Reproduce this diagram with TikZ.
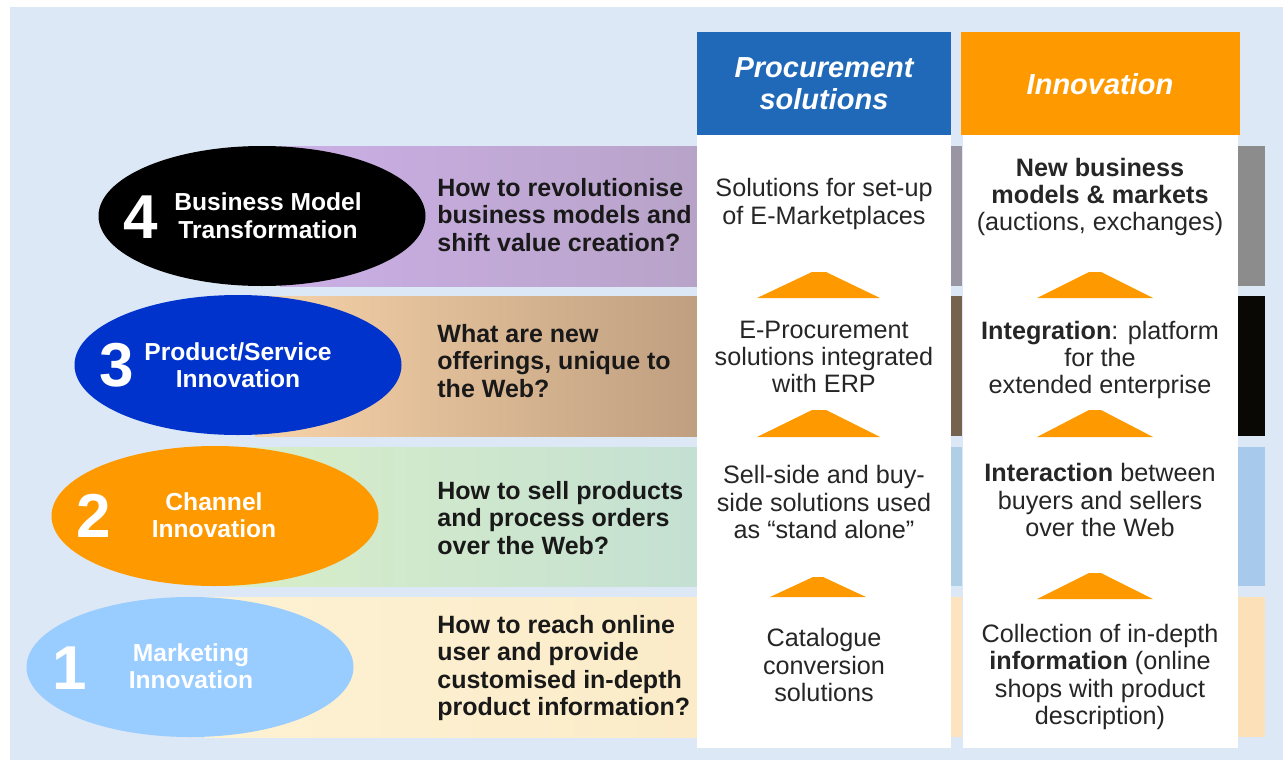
\documentclass[tikz,border=0pt]{standalone}
\usepackage{fontspec}
\setmainfont{Liberation Sans}
\usetikzlibrary{shapes.geometric}
\definecolor{bgblue}{HTML}{DCE8F5}
\definecolor{procblue}{HTML}{2068B8}
\definecolor{orng}{HTML}{FF9900}
\definecolor{ellblue}{HTML}{0033CC}
\definecolor{elllight}{HTML}{99CCFF}
\definecolor{b4l}{HTML}{CBAFE6}
\definecolor{b4r}{HTML}{B8A3C8}
\definecolor{b4m}{HTML}{9A95A3}
\definecolor{b4x}{HTML}{8C8C8C}
\definecolor{b3l}{HTML}{F7D3A9}
\definecolor{b3r}{HTML}{BF9F80}
\definecolor{b3m}{HTML}{756350}
\definecolor{b3x}{HTML}{0A0805}
\definecolor{b2l}{HTML}{D8EEC8}
\definecolor{b2r}{HTML}{C4E0D2}
\definecolor{b2m}{HTML}{AECFE6}
\definecolor{b2x}{HTML}{A6C9EC}
\definecolor{b1l}{HTML}{FDF2D4}
\definecolor{b1r}{HTML}{FBEBC8}
\definecolor{b1m}{HTML}{FDE4C0}
\definecolor{b1x}{HTML}{FCE0B8}
\tikzset{
  ell/.style={ellipse, minimum width=163.5pt, minimum height=70pt, inner sep=0pt},
  digit/.style={text=white, font=\fontsize{31pt}{31pt}\selectfont\bfseries, inner sep=0pt},
  elabel/.style={text=white, align=center, font=\fontsize{12.3pt}{13.8pt}\selectfont\bfseries, inner sep=0pt},
  question/.style={anchor=west, align=left, inner sep=0pt, text=black!90, font=\fontsize{12.5pt}{13.75pt}\selectfont\bfseries},
  coltext/.style={align=center, inner sep=0pt, text=black!85, font=\fontsize{12.6pt}{13.6pt}\selectfont},
  header/.style={text=white, align=center, inner sep=0pt, font=\fontsize{14.5pt}{16pt}\selectfont\bfseries\itshape},
  arrowtri/.style={fill=orng}
}
\begin{document}
\begin{tikzpicture}[x=0.5pt,y=-0.5pt]
\useasboundingbox (0,0) rectangle (1283,760);
\fill[white] (0,0) rectangle (1283,760);
\fill[bgblue] (10,7) rectangle (1283,760);
% bands
\shade[left color=b4l, right color=b4r] (280,146) rectangle (697,286);
\fill[b4m] (951,146) rectangle (962,286);
\fill[b4x] (1238,146) rectangle (1265,286);
\shade[left color=b3l, right color=b3r] (255,296) rectangle (697,436);
\fill[b3m] (951,296) rectangle (962,436);
\fill[b3x] (1238,296) rectangle (1265,436);
\shade[left color=b2l, right color=b2r] (230,447) rectangle (697,586);
\fill[b2m] (951,447) rectangle (962,586);
\fill[b2x] (1238,447) rectangle (1265,586);
\shade[left color=b1l, right color=b1r] (205,597) rectangle (697,737);
\fill[b1m] (951,597) rectangle (962,737);
\fill[b1x] (1238,597) rectangle (1265,737);
% ellipses
\node[ell, fill=black] (e4) at (262,216) {};
\node[ell, fill=ellblue] (e3) at (238,365) {};
\node[ell, fill=orng] (e2) at (215,516) {};
\node[ell, fill=elllight] (e1) at (190,667) {};
\node[digit] (d4) at (141,217) {4};
\node[digit] (d3) at (117,365) {3};
\node[digit] (d2) at (94,516) {2};
\node[digit] (d1) at (70,668) {1};
\node[elabel] (l4) at (268,216) {Business Model\\Transformation};
\node[elabel] (l3) at (238,365) {Product/Service\\Innovation};
\node[elabel] (l2) at (214,515) {Channel\\Innovation};
\node[elabel] (l1) at (191,666) {Marketing\\Innovation};
% questions
\node[question] (q4) at (437,215) {How to revolutionise\\business models and\\shift value creation?};
\node[question] (q3) at (437,361) {What are new\\offerings, unique to\\the Web?};
\node[question] (q2) at (437,518) {How to sell products\\and process orders\\over the Web?};
\node[question] (q1) at (437,668) {How to reach online\\user and provide\\customised in-depth\\product information?};
% columns
\fill[procblue] (697,32) rectangle (951,135);
\fill[orng] (961,32) rectangle (1240,135);
\fill[white] (697,135) rectangle (951,748);
\fill[white] (963,135) rectangle (1238,748);
\node[header] (hp) at (824,84) {Procurement\\solutions};
\node[header] (hi) at (1100,84) {Innovation};
% triangles
\fill[arrowtri] (757,298) -- (812,272) -- (826,272) -- (880,298) -- cycle;
\fill[arrowtri] (757,437) -- (812,410) -- (826,410) -- (880,437) -- cycle;
\fill[arrowtri] (770,597) -- (813,577) -- (823,577) -- (866,597) -- cycle;
\fill[arrowtri] (1037,298) -- (1089,272) -- (1101,272) -- (1153,298) -- cycle;
\fill[arrowtri] (1037,437) -- (1089,410) -- (1101,410) -- (1153,437) -- cycle;
\fill[arrowtri] (1037,599) -- (1089,573) -- (1101,573) -- (1153,599) -- cycle;
% column texts
\node[coltext] (p4) at (824,204) {Solutions for set-up\\of E-Marketplaces};
\node[coltext] (p3) at (824,357) {E-Procurement\\solutions integrated\\with ERP};
\node[coltext] (p2) at (824,502) {Sell-side and buy-\\side solutions used\\as “stand alone”};
\node[coltext] (p1) at (824,665) {Catalogue\\conversion\\solutions};
\node[coltext] (i4) at (1100,197) {\textbf{New business}\\\textbf{models \& markets}\\(auctions, exchanges)};
\node[coltext] (i3) at (1100,360) {\textbf{Integration}: platform\\for the\\extended enterprise};
\node[coltext] (i2) at (1100,500) {\textbf{Interaction} between\\buyers and sellers\\over the Web};
\node[coltext] (i1) at (1100,677) {Collection of in-depth\\\textbf{information} (online\\shops with product\\description)};
\end{tikzpicture}
\end{document}
